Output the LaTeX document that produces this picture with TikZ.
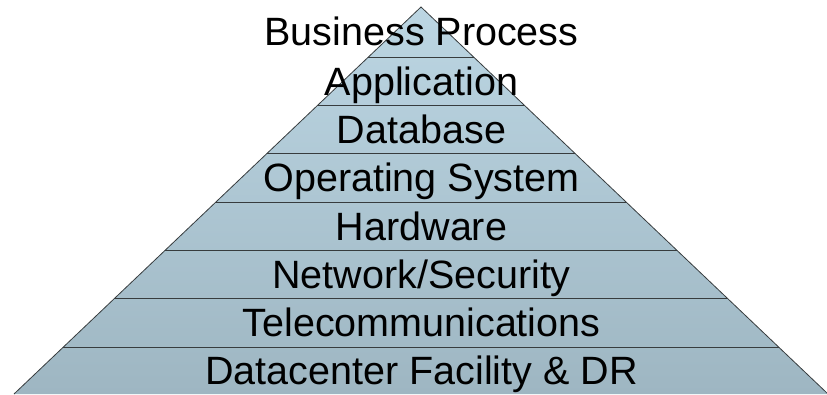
\documentclass[tikz,border=0pt]{standalone}
\usepackage{fontspec}
\setmainfont{Liberation Sans}
\definecolor{layertop}{RGB}{188,214,227}
\definecolor{layerbottom}{RGB}{158,182,194}
\definecolor{edgegray}{RGB}{55,60,62}
\begin{document}
\begin{tikzpicture}[x=1pt, y=1pt, every node/.style={font=\fontsize{39.5}{40}\selectfont, inner sep=0pt, outer sep=0pt, anchor=base}, layer line/.style={draw=edgegray, line width=0.8pt}]
	\useasboundingbox (0,0) rectangle (827,394);
	
	% Pyramid body
	\coordinate (apex) at (421,387);
	\coordinate (baseL) at (14,0);
	\coordinate (baseR) at (828,0);
	\shade[top color=layertop, bottom color=layerbottom] (baseL) -- (apex) -- (baseR) -- cycle;
	
	% Layer borders
	\begin{scope}
		\clip (baseL) -- (apex) -- (baseR) -- cycle;
		\draw[layer line] (0, 47) -- (827, 47);
		\draw[layer line] (0, 95.3) -- (827, 95.3);
		\draw[layer line] (0, 143.7) -- (827, 143.7);
		\draw[layer line] (0, 192) -- (827, 192);
		\draw[layer line] (0, 240.3) -- (827, 240.3);
		\draw[layer line] (0, 288.7) -- (827, 288.7);
		\draw[layer line] (0, 337) -- (827, 337);
	\end{scope}
	\draw[layer line] (baseL) -- (apex) -- (baseR);
	
	% Layer labels
	\node (facility) at (421.5, 9.5) {Datacenter Facility \& DR};
	\node (telecom) at (421.5, 57.2) {Telecommunications};
	\node (network) at (421.5, 105.5) {Network/Security};
	\node (hardware) at (421.5, 153.9) {Hardware};
	\node (os) at (421.5, 202.2) {Operating System};
	\node (database) at (421.5, 250.5) {Database};
	\node (application) at (421.5, 298.9) {Application};
	\node (process) at (421.5, 348) {Business Process};
	
\end{tikzpicture}
\end{document}
